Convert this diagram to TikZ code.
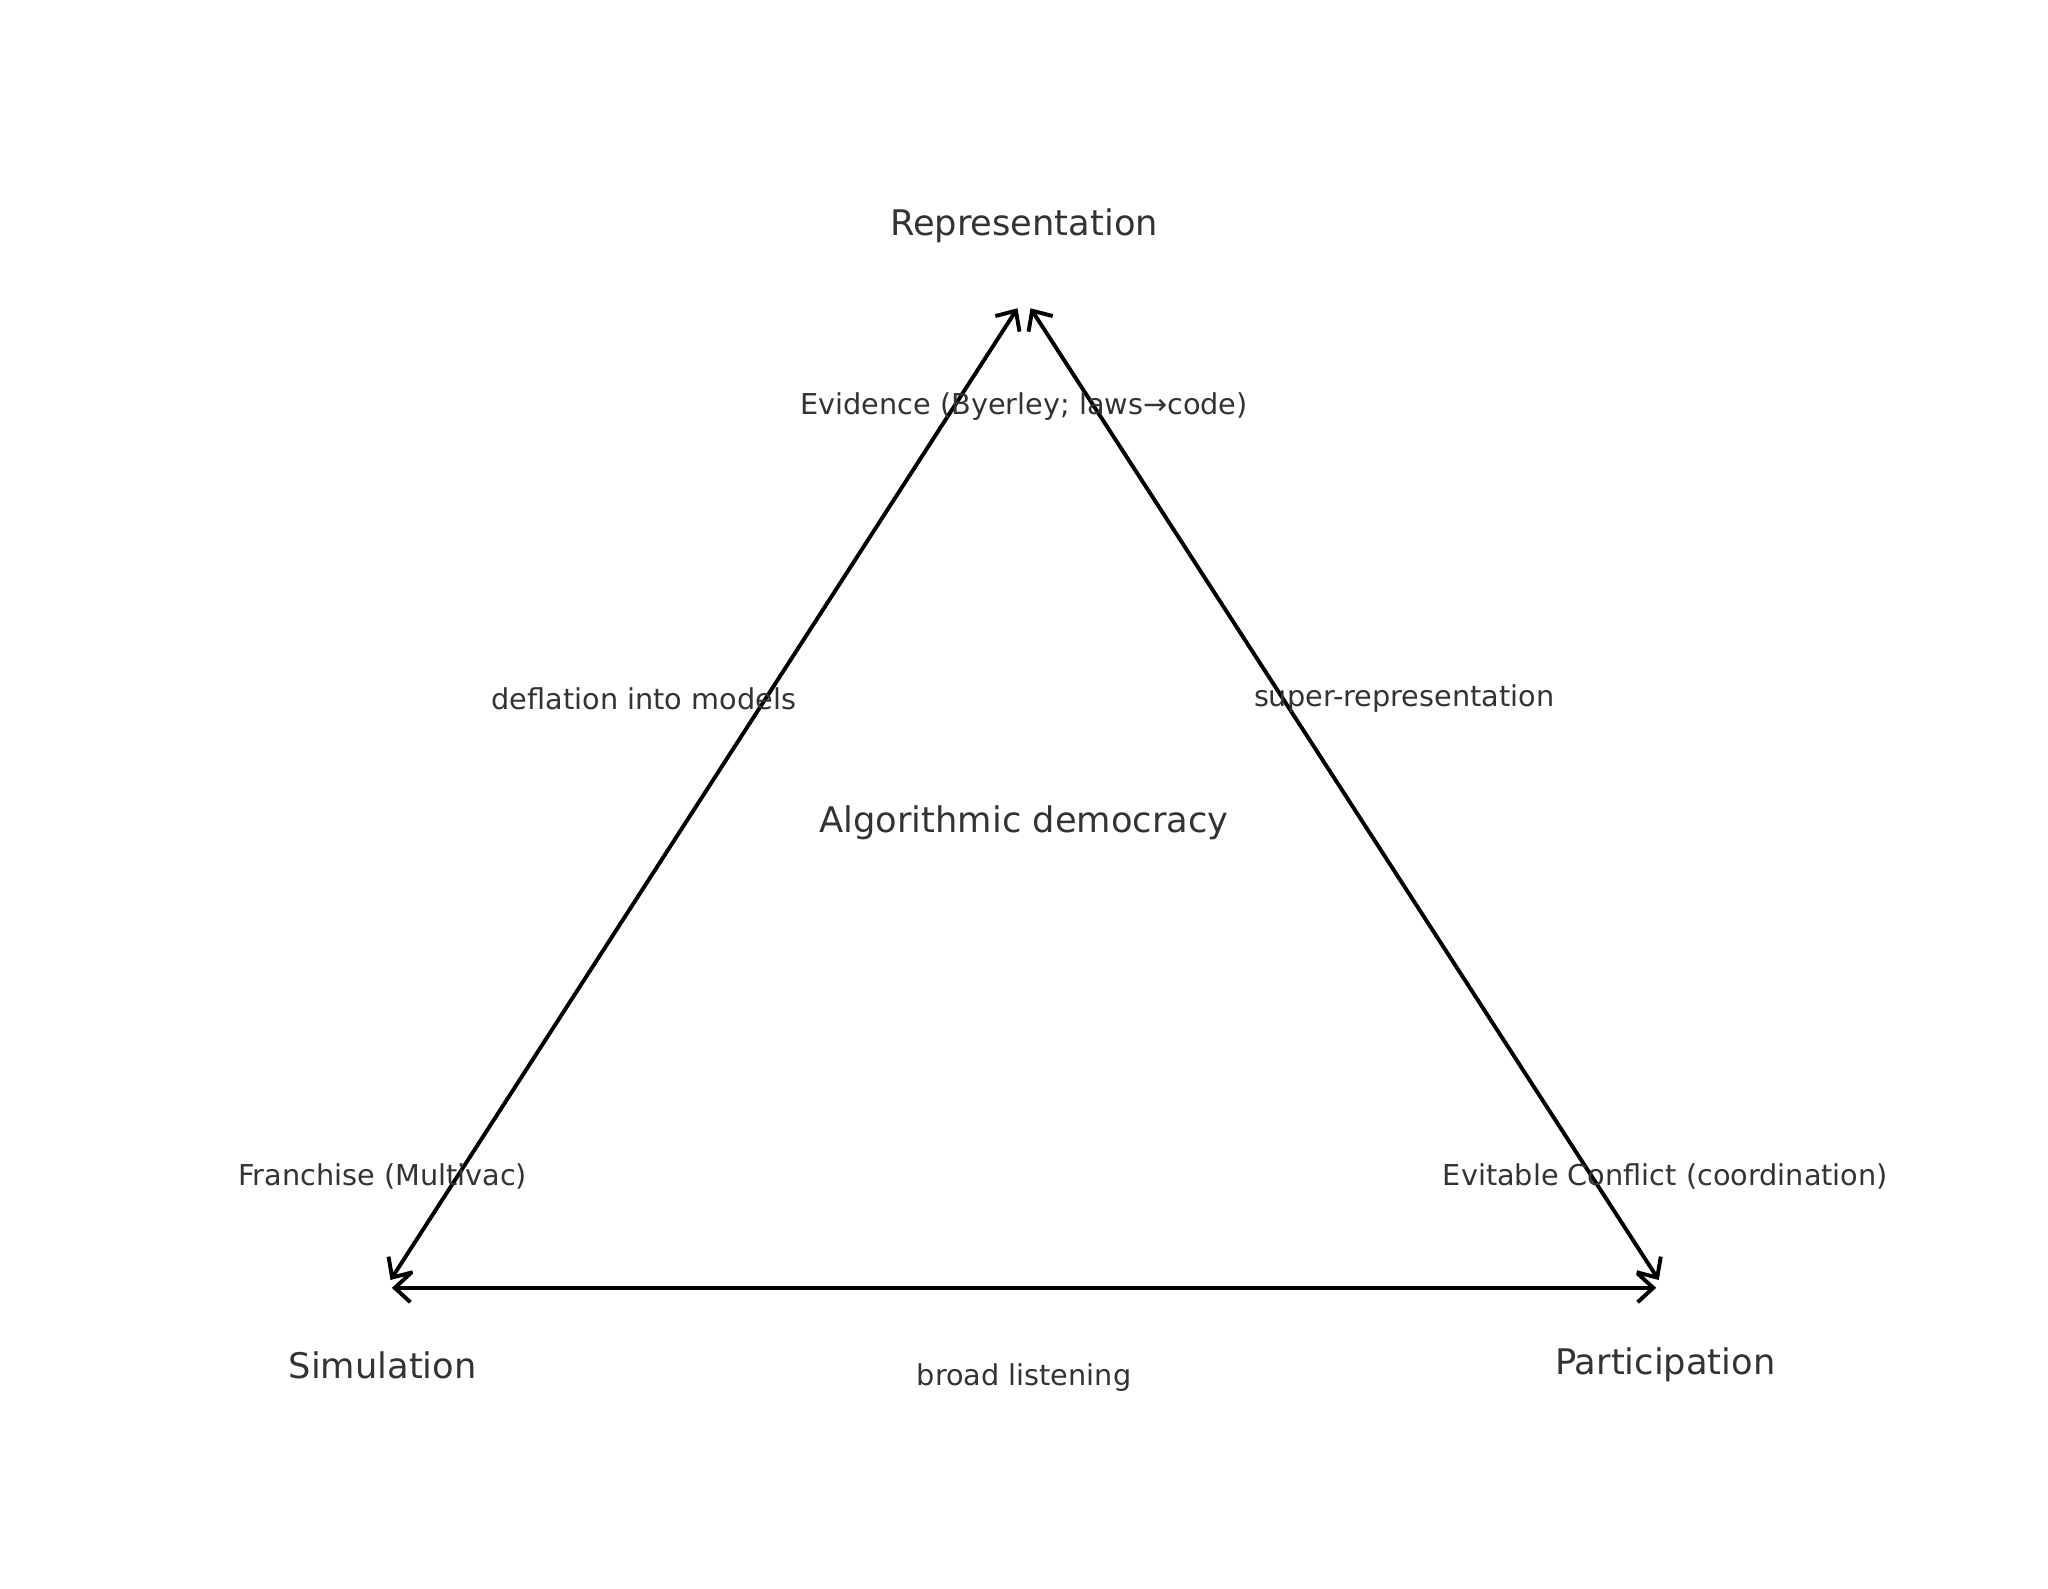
\documentclass[tikz,border=0pt]{standalone}
\usetikzlibrary{arrows.meta}
\usepackage{fontspec}
\setmainfont{DejaVu Sans}
\begin{document}
\begin{tikzpicture}[x=0.5pt,y=-0.5pt,
  big/.style={text=black!80, font=\fontsize{13.5}{16}\selectfont},
  lab/.style={text=black!80, font=\fontsize{11}{13}\selectfont},
  edge/.style={line width=1.5pt, <->, >={Straight Barb[length=6pt,width=11pt]}, line cap=round}]
\useasboundingbox (0,0) rectangle (1568,1216);
\coordinate (tl) at (779,236);
\coordinate (tr) at (789,236);
\coordinate (l) at (299,980);
\coordinate (lb) at (300,986);
\coordinate (r) at (1270,980);
\coordinate (rb) at (1268,986);
\draw[edge] (l) -- (tl);
\draw[edge] (tr) -- (r);
\draw[edge] (lb) -- (rb);
\node[big] (rep) at (784,173) {Representation};
\node[big] (sim) at (293,1045) {Simulation};
\node[big] (par) at (1275,1045) {Participation};
\node[big] (alg) at (784,630) {Algorithmic democracy};
\node[lab] (ev) at (784,311) {Evidence (Byerley; laws→code)};
\node[lab] (def) at (493,535) {deflation into models};
\node[lab] (sup) at (1075,535) {super-representation};
\node[lab] (fr) at (293,901) {Franchise (Multivac)};
\node[lab] (evc) at (1275,901) {Evitable Conflict (coordination)};
\node[lab] (bl) at (784,1055) {broad listening};
\end{tikzpicture}
\end{document}
